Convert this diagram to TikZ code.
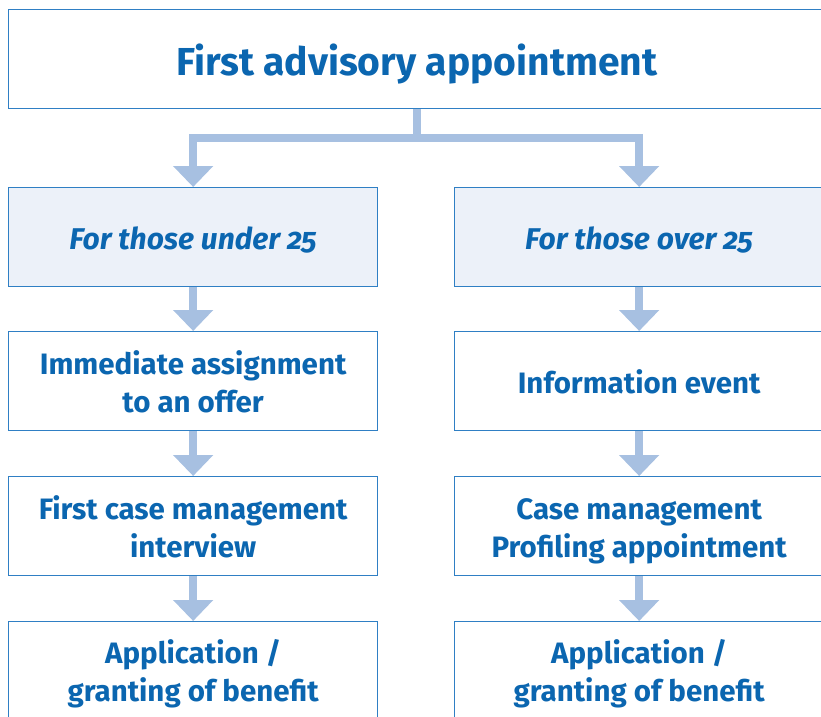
\documentclass[tikz,border=0pt]{standalone}
\usepackage{fontspec}
\setmainfont{Fira Sans}[Numbers=OldStyle]
\usetikzlibrary{calc,arrows.meta}
\definecolor{txtblue}{HTML}{0B66B0}
\definecolor{lineblue}{HTML}{2F7FC4}
\definecolor{arrowblue}{HTML}{A7C0E1}
\definecolor{fillblue}{HTML}{ECF1F9}
\newcommand\topstrut{\rule{0pt}{34pt}}
\newcommand\botstrut{\rule[-9pt]{0pt}{9pt}}
\begin{document}
\begin{tikzpicture}[x=1pt,y=-1pt,
  box/.style={draw=lineblue,line width=1.3pt,fill=white,minimum width=369pt,minimum height=99pt,
    anchor=north west,align=center,text=txtblue,font=\bfseries\fontsize{29.5}{38}\selectfont,inner sep=0pt},
  topbox/.style={box,fill=fillblue,font=\bfseries\itshape\fontsize{30}{38}\selectfont},
  conn/.style={draw=arrowblue,line width=8pt},
  arr/.style={conn,-{Triangle[width=39pt,length=21pt]}},
]
\useasboundingbox (0,0) rectangle (821,716);
\clip (0,0) rectangle (821,716);
\node[box,minimum width=816pt,font=\bfseries\fontsize{39}{44}\selectfont] (top) at (8,9) {\raisebox{-5pt}[\height][\depth]{First advisory appointment}};
\node[topbox] (l1) at (8,187) {\topstrut For those under 25\botstrut};
\node[topbox] (r1) at (454,187) {\topstrut For those over 25\botstrut};
\node[box] (l2) at (8,331) {\topstrut Immediate assignment\\to an offer\botstrut};
\node[box] (r2) at (454,331) {\topstrut Information event\botstrut};
\node[box] (l3) at (8,476) {\topstrut First case management\\interview\botstrut};
\node[box] (r3) at (454,476) {\topstrut Case management\\Profiling appointment\botstrut};
\node[box,minimum height=96pt] (l4) at (8,621) {\topstrut Application /\\granting of benefit\botstrut};
\node[box,minimum height=96pt] (r4) at (454,621) {\topstrut Application /\\granting of benefit\botstrut};
\coordinate (j) at ($(top.south)+(0,29)$);
\draw[conn] (top.south) -- (j);
\draw[arr] (j -| l1.north) -- (l1.north) ;
\draw[conn] ($(j -| l1.north)+(-4,0)$) -- ($(j -| r1.north)+(4,0)$);
\draw[arr] (j -| r1.north) -- (r1.north);
\foreach \a/\b in {l1/l2,l2/l3,l3/l4,r1/r2,r2/r3,r3/r4}{
  \draw[arr] (\a.south) -- (\b.north);
}
\end{tikzpicture}
\end{document}
